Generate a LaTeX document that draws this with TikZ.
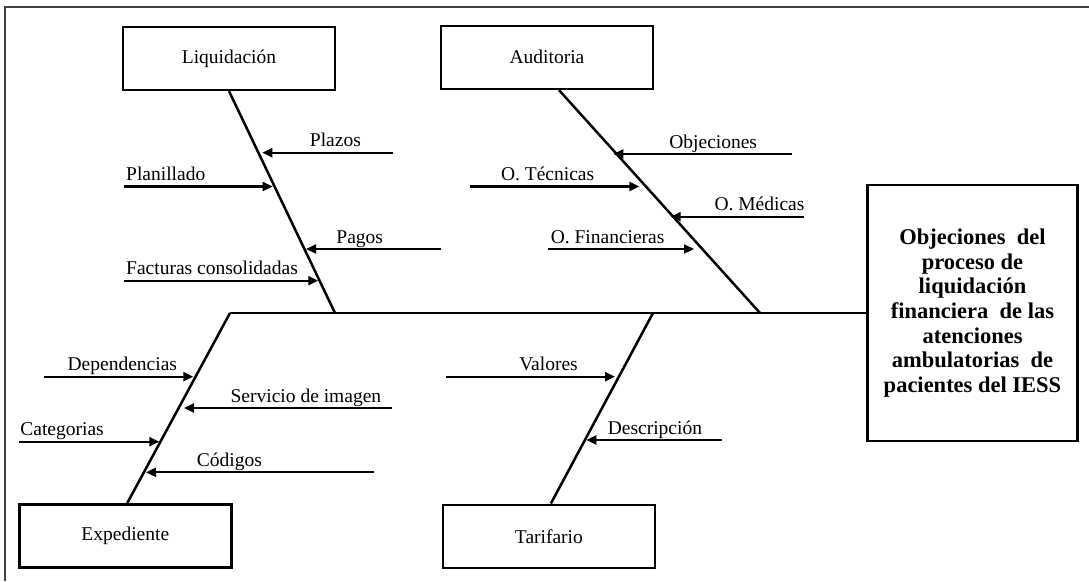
\documentclass[tikz,border=0pt]{standalone}
\usepackage{fontspec}
\setmainfont{Liberation Serif}
\usetikzlibrary{arrows.meta, positioning}

\begin{document}
\begin{tikzpicture}[
  x=1pt, y=-1pt,
  cat/.style={draw, line width=2.6pt, minimum width=212pt, minimum height=63pt, inner sep=0pt, font=\fontsize{19.5}{23}\selectfont},
  effect/.style={draw, line width=2.6pt, minimum width=210pt, minimum height=256pt, align=center, font=\fontsize{22.5}{24.7}\selectfont\bfseries},
  bone/.style={line width=2.5pt},
  cause/.style={line width=2.2pt, -{Triangle[length=10pt, width=9pt]}},
  lbl/.style={anchor=base, inner sep=0pt, font=\fontsize{19.5}{23}\selectfont},
]
  \useasboundingbox (0,0) rectangle (1089,581);
  \draw[line width=1.6pt, black!75] (5,581) -- (5,6.7) -- (1089,6.7);

  \node[cat] (liq) at (229,58.3) {Liquidación};
  \node[cat] (aud) at (547,57.3) {Auditoria};
  \node[cat] (exp) at (125.3,535.8) {Expediente};
  \node[cat] (tar) at (548.9,536.3) {Tarifario};
  \node[effect] (obj) at (972.5,313) {Objeciones\ \ del\\ proceso de\\ liquidación\\ financiera\ \ de las\\ atenciones\\ ambulatorias\ \ de\\ pacientes del IESS};

  \coordinate (spine-s) at (230,313);
  \coordinate (liq-e) at (335,313);
  \coordinate (aud-e) at (760,313);
  \coordinate (tar-s) at (653,313);
  \draw[bone] (spine-s) -- (obj.west);
  \draw[bone] (liq.south) -- (liq-e);
  \draw[bone] ([xshift=12pt]aud.south) -- (aud-e);
  \draw[bone] (spine-s) -- ([xshift=2pt]exp.north);
  \draw[bone] (tar-s) -- ([xshift=2pt]tar.north);

  \coordinate (plazos-s) at (393,152.7);   \coordinate (plazos-e) at (262.3,152.7);
  \coordinate (planillado-s) at (124,186.5); \coordinate (planillado-e) at (272.7,186.5);
  \coordinate (pagos-s) at (440.7,249);    \coordinate (pagos-e) at (306,249);
  \coordinate (facturas-s) at (124,280.7); \coordinate (facturas-e) at (318.3,280.7);
  \draw[cause] (plazos-s) -- (plazos-e);
  \draw[cause] (planillado-s) -- (planillado-e);
  \draw[cause] (pagos-s) -- (pagos-e);
  \draw[cause] (facturas-s) -- (facturas-e);
  \node[lbl] (plazos) at (335.4,146.7) {Plazos};
  \node[lbl, anchor=base west] (planillado) at (126,180.5) {Planillado};
  \node[lbl] (pagos) at (359.7,243) {Pagos};
  \node[lbl, anchor=base west] (facturas) at (126,274.7) {Facturas consolidadas};

  \coordinate (objeciones-s) at (791.8,154);  \coordinate (objeciones-e) at (613.3,154);
  \coordinate (tecnicas-s) at (469.8,186.5);  \coordinate (tecnicas-e) at (639.3,186.5);
  \coordinate (medicas-s) at (804.2,216.7);   \coordinate (medicas-e) at (670.7,216.7);
  \coordinate (financieras-s) at (548.4,249); \coordinate (financieras-e) at (694,249);
  \draw[cause] (objeciones-s) -- (objeciones-e);
  \draw[cause] (tecnicas-s) -- (tecnicas-e);
  \draw[cause] (medicas-s) -- (medicas-e);
  \draw[cause] (financieras-s) -- (financieras-e);
  \node[lbl] (objeciones) at (713.2,148) {Objeciones};
  \node[lbl] (tecnicas) at (547.6,180.5) {O. Técnicas};
  \node[lbl] (medicas) at (759.5,210.7) {O. Médicas};
  \node[lbl] (financieras) at (607.6,243) {O. Financieras};

  \coordinate (dependencias-s) at (44.1,376.7); \coordinate (dependencias-e) at (193.3,376.7);
  \coordinate (servicio-s) at (391.7,408);      \coordinate (servicio-e) at (184,408);
  \coordinate (categorias-s) at (19.1,441.7);   \coordinate (categorias-e) at (159.3,441.7);
  \coordinate (codigos-s) at (374.3,472.3);     \coordinate (codigos-e) at (146,472.3);
  \draw[cause] (dependencias-s) -- (dependencias-e);
  \draw[cause] (servicio-s) -- (servicio-e);
  \draw[cause] (categorias-s) -- (categorias-e);
  \draw[cause] (codigos-s) -- (codigos-e);
  \node[lbl] (dependencias) at (122.3,370.7) {Dependencias};
  \node[lbl] (servicio) at (305.9,402) {Servicio de imagen};
  \node[lbl, anchor=base west] (categorias) at (20.2,435.7) {Categorias};
  \node[lbl] (codigos) at (229.4,466.3) {Códigos};

  \coordinate (valores-s) at (446,376.7);     \coordinate (valores-e) at (615,376.7);
  \coordinate (descripcion-s) at (722.1,440); \coordinate (descripcion-e) at (586.4,440);
  \draw[cause] (valores-s) -- (valores-e);
  \draw[cause] (descripcion-s) -- (descripcion-e);
  \node[lbl] (valores) at (548.5,370.7) {Valores};
  \node[lbl] (descripcion) at (654.9,434) {Descripción};
\end{tikzpicture}
\end{document}
